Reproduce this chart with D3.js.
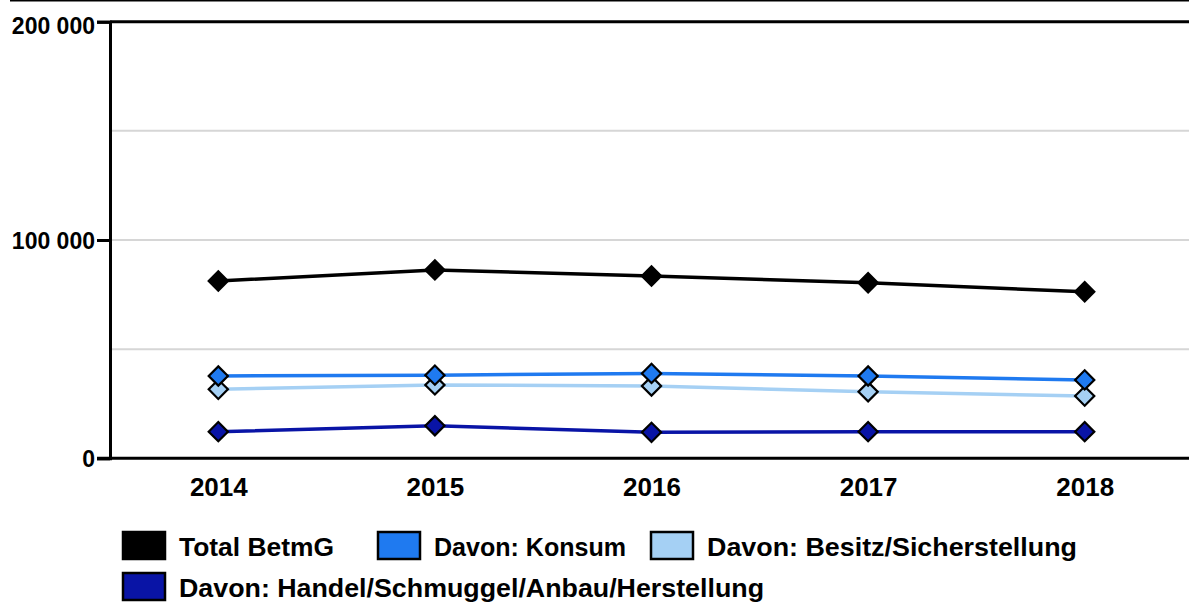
<!DOCTYPE html>
<html>
<head>
<meta charset="utf-8">
<script src="https://cdn.jsdelivr.net/npm/d3@7"></script>
<style>
  html, body { margin: 0; padding: 0; background: #fff; }
  svg { display: block; font-family: "Liberation Sans", Arial, sans-serif; font-weight: bold; }
</style>
</head>
<body>
<svg id="chart" width="1189" height="607"></svg>
<script>
// Jahre und Anzahl Verzeigungen nach Betäubungsmittelgesetz
const years = ["2014", "2015", "2016", "2017", "2018"];
const totalBetmG = [81200, 86300, 83500, 80400, 76300];
const konsum = [37700, 38100, 38900, 37700, 35900];
const besitz = [31600, 33600, 33100, 30500, 28500];
const handel = [12200, 14900, 11900, 12200, 12200];
const yTicks = [0, 100000, 200000];
const yGrid = [50000, 100000, 150000];

const seriesNames = ["Total BetmG", "Davon: Konsum", "Davon: Besitz/Sicherstellung", "Davon: Handel/Schmuggel/Anbau/Herstellung"];
const seriesColors = ["#000000", "#1f7af0", "#a5d0f4", "#0914a6"];
const seriesValues = [totalBetmG, konsum, besitz, handel];

const svg = d3.select("#chart");
const W = 1189;
const plotLeft = 110, plotTop = 21.7, plotBottom = 458.3, plotRight = 1193;
const FONT = "'Liberation Sans', Arial, sans-serif";

const x = d3.scalePoint().domain(years).range([plotLeft, plotRight]).padding(0.5);
const y = d3.scaleLinear().domain([0, 200000]).range([plotBottom, plotTop]);

// top border line
svg.append("line").attr("x1", 10).attr("x2", W).attr("y1", 0.5).attr("y2", 0.5)
  .attr("stroke", "#000").attr("stroke-width", 2);

// horizontal grid lines
svg.append("g").selectAll("line").data(yGrid).join("line")
  .attr("x1", plotLeft).attr("x2", W)
  .attr("y1", d => y(d)).attr("y2", d => y(d))
  .attr("stroke", "#d6d6d6").attr("stroke-width", 2);

// top frame line at axis maximum
svg.append("line").attr("x1", plotLeft).attr("x2", W).attr("y1", y(200000)).attr("y2", y(200000))
  .attr("stroke", "#000").attr("stroke-width", 3);

// y axis
const yAxis = svg.append("g").attr("transform", `translate(${plotLeft},0)`)
  .call(d3.axisLeft(y).tickValues(yTicks).tickSize(13).tickPadding(2)
    .tickFormat(d => d3.format(",")(d).replace(/,/g, " ")));
yAxis.select(".domain").attr("stroke", "#000").attr("stroke-width", 3);
yAxis.selectAll(".tick line").attr("stroke", "#000").attr("stroke-width", 3);
yAxis.selectAll("text").attr("font-size", 23).attr("font-weight", "bold").attr("fill", "#000")
  .attr("font-family", FONT)
  .attr("dy", d => d === 200000 ? "0.52em" : "0.35em");

// x axis
const xAxis = svg.append("g").attr("transform", `translate(0,${plotBottom})`)
  .call(d3.axisBottom(x).tickSize(0).tickPadding(0));
xAxis.select(".domain").remove();
svg.append("line").attr("x1", plotLeft - 13).attr("x2", W).attr("y1", plotBottom).attr("y2", plotBottom)
  .attr("stroke", "#000").attr("stroke-width", 3);
xAxis.selectAll("text").attr("font-size", 26).attr("font-weight", "bold").attr("fill", "#000")
  .attr("font-family", FONT).attr("y", 38).attr("dy", null);

// lines, drawn from the lowest series upwards
const line = d3.line().x((d, i) => x(years[i])).y(d => y(d));
const order = [3, 2, 1, 0];
order.forEach(k => {
  svg.append("path").datum(seriesValues[k])
    .attr("d", line).attr("fill", "none")
    .attr("stroke", seriesColors[k]).attr("stroke-width", 3.5);
});
const diamond = d3.symbol().type(d3.symbolSquare).size(185);
order.forEach(k => {
  svg.append("g").selectAll("path").data(seriesValues[k]).join("path")
    .attr("d", diamond)
    .attr("transform", (d, i) => `translate(${x(years[i])},${y(d)}) rotate(45)`)
    .attr("fill", seriesColors[k]).attr("stroke", "#000").attr("stroke-width", 2.2);
});

// legend (two rows, text fitted to a fixed width per entry)
const legendItems = [
  { k: 0, x: 123, y: 532, w: 155 },
  { k: 1, x: 378, y: 532, w: 192 },
  { k: 2, x: 651, y: 532, w: 370 },
  { k: 3, x: 123, y: 573, w: 585 }
];
const lg = svg.append("g");
legendItems.forEach(it => {
  lg.append("rect").attr("x", it.x).attr("y", it.y).attr("width", 42).attr("height", 27)
    .attr("fill", seriesColors[it.k]).attr("stroke", "#000").attr("stroke-width", 2.5);
  lg.append("text").attr("x", it.x + 56).attr("y", it.y + 24)
    .attr("font-size", 26.5).attr("fill", "#000").attr("font-family", FONT)
    .attr("textLength", it.w).attr("lengthAdjust", "spacingAndGlyphs")
    .text(seriesNames[it.k]);
});
</script>
</body>
</html>
